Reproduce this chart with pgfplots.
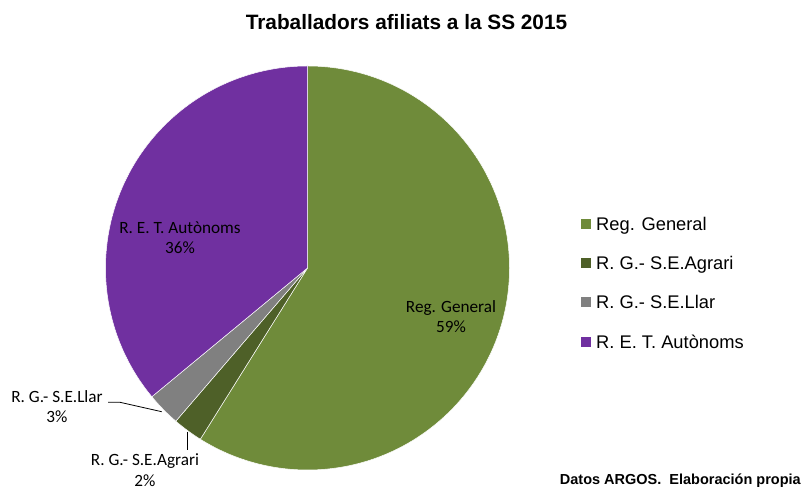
\documentclass[border=0pt]{standalone}
\usepackage{pgfplots}
\usepackage{pgfplotstable}
\pgfplotsset{compat=1.18}
\usepackage{fontspec}
\setmainfont{Liberation Sans}
\newfontfamily\carlito{Carlito}

\definecolor{cGen}{HTML}{6F8B3A}
\definecolor{cAgr}{HTML}{4E6028}
\definecolor{cLlar}{HTML}{808080}
\definecolor{cAut}{HTML}{7030A0}

\pgfplotstableread[col sep=comma]{
label,value
Reg. General,58.9
R. G.- S.E.Agrari,2.4
R. G.- S.E.Llar,2.7
R. E. T. Autònoms,36.0
}\piedata

\newcommand\getval[2]{\pgfplotstablegetelem{#1}{value}\of\piedata\let#2\pgfplotsretval}
\newcommand\getlab[2]{\pgfplotstablegetelem{#1}{label}\of\piedata\let#2\pgfplotsretval}

\begin{document}
\begin{tikzpicture}
\getval{0}\vA \getval{1}\vB \getval{2}\vC \getval{3}\vD
\getlab{0}\nA \getlab{1}\nB \getlab{2}\nC \getlab{3}\nD
\pgfmathsetmacro\tot{\vA+\vB+\vC+\vD}
\pgfmathsetmacro\aA{90-\vA/\tot*360}
\pgfmathsetmacro\aB{\aA-\vB/\tot*360}
\pgfmathsetmacro\aC{\aB-\vC/\tot*360}
\pgfmathsetmacro\aD{\aC-\vD/\tot*360}
\pgfmathsetmacro\pA{int(round(\vA/\tot*100))}
\pgfmathsetmacro\pB{int(round(\vB/\tot*100))}
\pgfmathsetmacro\pC{int(round(\vC/\tot*100))}
\pgfmathsetmacro\pD{int(round(\vD/\tot*100))}
\begin{axis}[
  x=1bp, y=1bp, xmin=0, xmax=805, ymin=0, ymax=490,
  scale only axis, hide axis, clip=false,
  legend image code/.code={\fill[#1] (0bp,-5bp) rectangle (10bp,5bp);},
  legend cell align=left,
  legend style={at={(axis cs:581,273)}, anchor=north west, draw=none, fill=none,
    inner sep=0pt, row sep=26.3bp,
    font=\fontsize{18.3bp}{21bp}\selectfont,
    nodes={inner ysep=0pt, inner xsep=5bp, text height=13bp, text depth=0pt}},
]
\path (axis cs:0,0) rectangle (axis cs:805,490);
% pie wedges
\filldraw[fill=cGen, draw=white, line width=0.5pt] (axis cs:307.5,222) -- ++(90:202bp) arc[start angle=90, end angle=\aA, radius=202bp] -- cycle;
\filldraw[fill=cAgr, draw=white, line width=0.5pt] (axis cs:307.5,222) -- ++(\aA:202bp) arc[start angle=\aA, end angle=\aB, radius=202bp] -- cycle;
\filldraw[fill=cLlar, draw=white, line width=0.5pt] (axis cs:307.5,222) -- ++(\aB:202bp) arc[start angle=\aB, end angle=\aC, radius=202bp] -- cycle;
\filldraw[fill=cAut, draw=white, line width=0.5pt] (axis cs:307.5,222) -- ++(\aC:202bp) arc[start angle=\aC, end angle=\aD, radius=202bp] -- cycle;
% legend
\addlegendimage{fill=cGen, draw=none}\addlegendentry{\nA}
\addlegendimage{fill=cAgr, draw=none}\addlegendentry{\nB}
\addlegendimage{fill=cLlar, draw=none}\addlegendentry{\nC}
\addlegendimage{fill=cAut, draw=none}\addlegendentry{\nD}
% leader lines
\draw[black, line width=0.8pt] (axis cs:108,87.7) -- (axis cs:120,87.7) -- (axis cs:161.7,78.3);
\draw[black, line width=0.8pt] (axis cs:187,58) -- (axis cs:187,40);
% data labels
\begin{scope}[every node/.style={font=\carlito\fontsize{17.2bp}{20bp}\selectfont, anchor=base, inner sep=0pt}]
\node at (axis cs:451,177.3) {\nA};
\node at (axis cs:451,157.7) {\pA\%};
\node at (axis cs:180,256) {\nD};
\node at (axis cs:180,236.7) {\pD\%};
\node at (axis cs:57,87.7) {\nC};
\node at (axis cs:57,67.3) {\pC\%};
\node at (axis cs:145,24) {\nB};
\node at (axis cs:145,3) {\pB\%};
\end{scope}
% title and note
\node[font=\bfseries\fontsize{20.8bp}{25bp}\selectfont, anchor=base, inner sep=0pt] at (axis cs:406.5,460) {Traballadors afiliats a la SS 2015};
\node[font=\bfseries\fontsize{14.5bp}{17bp}\selectfont, anchor=base east, inner sep=0pt] at (axis cs:801,5.7) {Datos ARGOS.\ \ Elaboración propia};
\end{axis}
\end{tikzpicture}
\end{document}
